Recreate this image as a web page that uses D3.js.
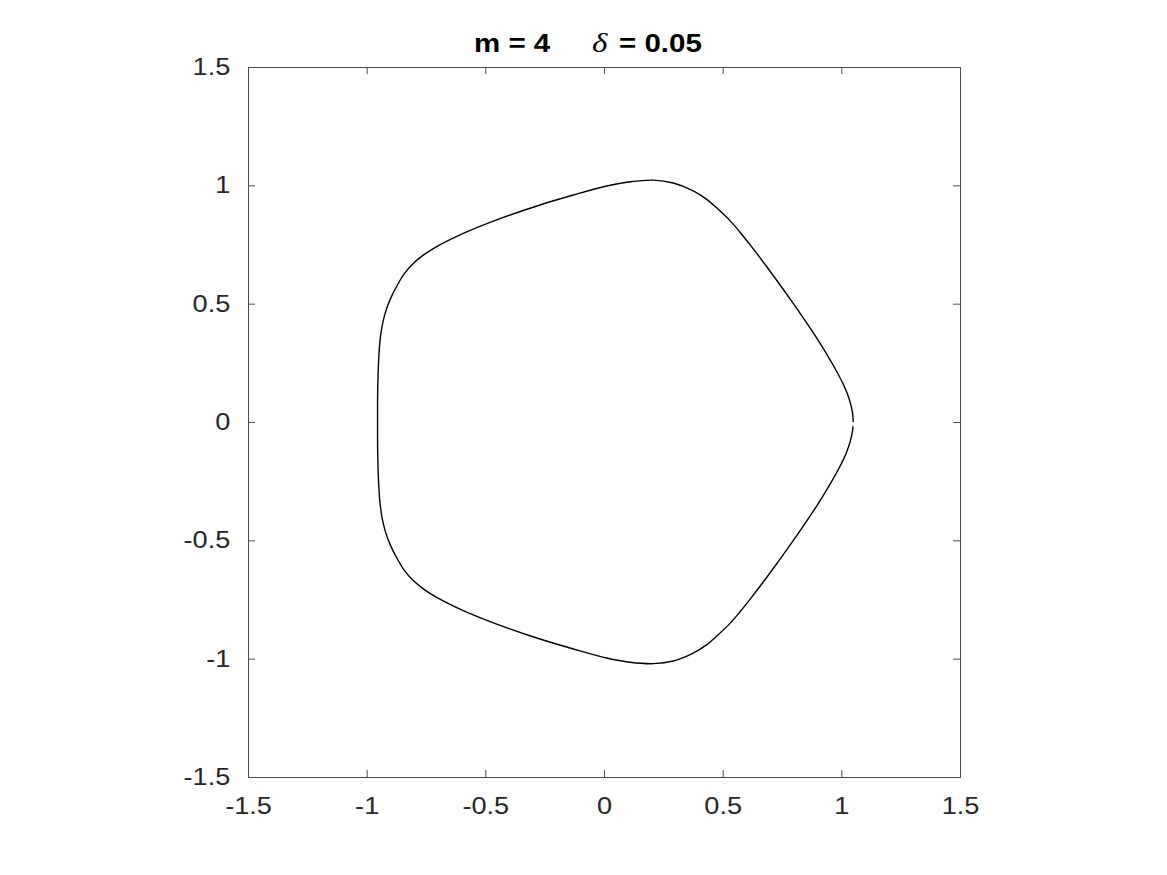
<!DOCTYPE html>
<html>
<head>
<meta charset="utf-8">
<script src="https://cdn.jsdelivr.net/npm/d3@7"></script>
<style>
  html, body { margin: 0; padding: 0; background: #fff; }
  svg { display: block; }
</style>
</head>
<body>
<svg id="chart" width="1167" height="875"></svg>
<script>
// Curve (counter-clockwise, starting at the right-most point)
const curveX = [1.050, 1.047, 1.038, 1.025, 1.008, 0.985, 0.955, 0.896, 0.798, 0.686, 0.620, 0.573, 0.530, 0.480, 0.430, 0.376, 0.292, 0.208, 0.110, 0.011, -0.129, -0.270, -0.452, -0.593, -0.705, -0.760, -0.806, -0.842, -0.870, -0.902, -0.922, -0.936, -0.945, -0.950, -0.953, -0.954, -0.954,
                -0.954, -0.953, -0.950, -0.945, -0.936, -0.922, -0.902, -0.870, -0.842, -0.806, -0.760, -0.705, -0.593, -0.452, -0.270, -0.129, 0.011, 0.110, 0.208, 0.292, 0.376, 0.430, 0.480, 0.530, 0.573, 0.620, 0.686, 0.798, 0.896, 0.955, 0.985, 1.008, 1.025, 1.038, 1.047, 1.049];
const curveY = [0.000, 0.040, 0.080, 0.120, 0.160, 0.205, 0.258, 0.355, 0.500, 0.656, 0.743, 0.802, 0.852, 0.900, 0.943, 0.977, 1.010, 1.022, 1.015, 0.997, 0.959, 0.917, 0.854, 0.797, 0.741, 0.706, 0.668, 0.626, 0.580, 0.516, 0.460, 0.400, 0.330, 0.250, 0.160, 0.080, 0.000,
                -0.080, -0.160, -0.250, -0.330, -0.400, -0.460, -0.516, -0.580, -0.626, -0.668, -0.706, -0.741, -0.797, -0.854, -0.917, -0.959, -0.997, -1.015, -1.021, -1.010, -0.977, -0.943, -0.900, -0.852, -0.802, -0.743, -0.656, -0.500, -0.355, -0.258, -0.205, -0.160, -0.120, -0.080, -0.040, -0.018];
const xTicks = [-1.5, -1, -0.5, 0, 0.5, 1, 1.5];
const yTicks = [-1.5, -1, -0.5, 0, 0.5, 1, 1.5];
const titleParts = ["m = 4", "\u03B4", "= 0.05"];

(function () {
const svg = d3.select("#chart");
const W = 1167, H = 875;
svg.append("rect").attr("width", W).attr("height", H).attr("fill", "#fff");

const pLeft = 248, pRight = 960, pTop = 67, pBottom = 777;
const x = d3.scaleLinear().domain([-1.5, 1.5]).range([pLeft, pRight]);
const y = d3.scaleLinear().domain([-1.5, 1.5]).range([pBottom, pTop]);

const fmt = d => String(d);
const axisColor = "#4d4d4d";
const textColor = "#262626";
const fontFam = "'Liberation Sans', Arial, Helvetica, sans-serif";
const stretch = 1.18;

function styleAxis(g, showLabels) {
  g.select(".domain").remove();
  g.selectAll(".tick line").attr("stroke", axisColor).attr("stroke-width", 1);
  g.selectAll(".tick text")
    .attr("fill", textColor)
    .attr("transform", `scale(${stretch},1)`)
    .style("font-family", fontFam)
    .style("font-size", "23px");
  if (!showLabels) g.selectAll(".tick text").remove();
}

svg.append("g").attr("transform", `translate(0,${pBottom})`)
  .call(d3.axisBottom(x).tickValues(xTicks).tickFormat(fmt).tickSize(-7).tickPadding(21))
  .call(g => styleAxis(g, true));
svg.append("g").attr("transform", `translate(0,${pTop})`)
  .call(d3.axisTop(x).tickValues(xTicks).tickSize(-7))
  .call(g => styleAxis(g, false));
svg.append("g").attr("transform", `translate(${pLeft},0)`)
  .call(d3.axisLeft(y).tickValues(yTicks).tickFormat(fmt).tickSize(-7).tickPadding(15))
  .call(g => styleAxis(g, true));
svg.append("g").attr("transform", `translate(${pRight},0)`)
  .call(d3.axisRight(y).tickValues(yTicks).tickSize(-7))
  .call(g => styleAxis(g, false));

// box
svg.append("rect")
  .attr("x", pLeft).attr("y", pTop)
  .attr("width", pRight - pLeft).attr("height", pBottom - pTop)
  .attr("fill", "none").attr("stroke", axisColor).attr("stroke-width", 1)
  .attr("shape-rendering", "crispEdges");

// curve
const pts = curveX.map((v, i) => [v, curveY[i]]);
svg.append("path")
  .datum(pts)
  .attr("fill", "none")
  .attr("stroke", "#000")
  .attr("stroke-width", 1.4)
  .attr("stroke-linejoin", "round")
  .attr("d", d3.line().x(d => x(d[0])).y(d => y(d[1])).curve(d3.curveCatmullRom.alpha(0.5)));

// title (three pieces, horizontally stretched like the reference rendering)
const titleY = 52;
svg.append("text")
  .attr("transform", `translate(474,${titleY}) scale(${stretch},1)`)
  .style("font-family", fontFam).style("font-size", "25px").style("font-weight", "bold")
  .attr("fill", "#000").text(titleParts[0]);
svg.append("text")
  .attr("transform", `translate(592,${titleY}) scale(${stretch},1)`)
  .style("font-family", "'Liberation Serif', 'DejaVu Serif', serif")
  .style("font-size", "28px").style("font-style", "italic")
  .attr("fill", "#000").text(titleParts[1]);
svg.append("text")
  .attr("transform", `translate(619,${titleY}) scale(${stretch},1)`)
  .style("font-family", fontFam).style("font-size", "25px").style("font-weight", "bold")
  .attr("fill", "#000").text(titleParts[2]);
})();
</script>
</body>
</html>
